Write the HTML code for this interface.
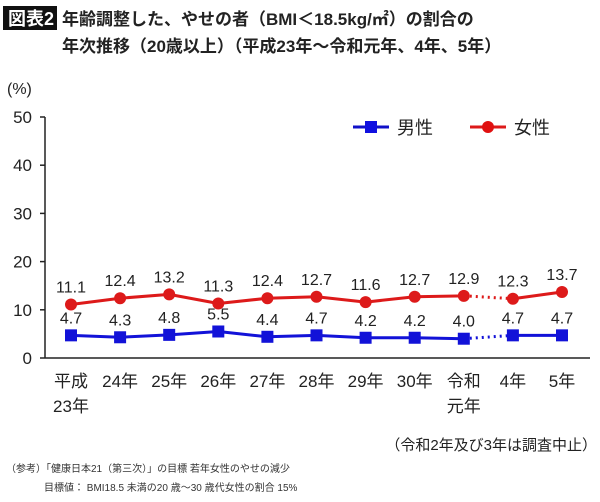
<!DOCTYPE html>
<html><head><meta charset="utf-8"><style>
body{margin:0;background:#fff;width:600px;height:497px;overflow:hidden;font-family:"Liberation Sans","Noto Sans CJK JP",sans-serif;}
svg text{font-family:"Liberation Sans","Noto Sans CJK JP",sans-serif;}
</style></head><body>
<svg width="600" height="497">
<rect x="3" y="6" width="54" height="24" fill="#111"/>
<text x="8" y="25" fill="#fff" font-size="18" font-weight="bold">図表2</text>
<text x="62" y="25" font-size="17" font-weight="bold" fill="#222">年齢調整した、やせの者（BMI＜18.5kg/㎡）の割合の</text>
<text x="62" y="52" font-size="17" font-weight="bold" fill="#222">年次推移（20歳以上）（平成23年～令和元年、4年、5年）</text>
<text x="7" y="94" font-size="16" fill="#222">(%)</text>
<g id="axes"></g>
<g id="series"></g>
<g>
<line x1="353" y1="127" x2="389" y2="127" stroke="#1010c8" stroke-width="3"/>
<rect x="365" y="121" width="12" height="12" fill="#1010e0"/>
<text x="397" y="134" font-size="18" fill="#222">男性</text>
<line x1="470" y1="127" x2="506" y2="127" stroke="#dd1a1a" stroke-width="3"/>
<circle cx="488" cy="127" r="6" fill="#e01010"/>
<text x="514" y="134" font-size="18" fill="#222">女性</text>
</g>
<text x="597" y="450" font-size="15" fill="#222" text-anchor="end">（令和2年及び3年は調査中止）</text>
<text x="6" y="472" font-size="10" fill="#333">（参考）「健康日本21（第三次）」の目標 若年女性のやせの減少</text>
<text x="44" y="491" font-size="10" fill="#333">目標値： BMI18.5 未満の20 歳～30 歳代女性の割合 15%</text>
</svg>
<script>
const categories=[["平成","23年"],["24年"],["25年"],["26年"],["27年"],["28年"],["29年"],["30年"],["令和","元年"],["4年"],["5年"]];
const maleValues=[4.7,4.3,4.8,5.5,4.4,4.7,4.2,4.2,4.0,4.7,4.7];
const femaleValues=[11.1,12.4,13.2,11.3,12.4,12.7,11.6,12.7,12.9,12.3,13.7];
const yTicks=[0,10,20,30,40,50];
const gapAfter=8;
const NS="http://www.w3.org/2000/svg";
const x0=71,dx=49.1,yBase=358,yTop=117;
const xs=i=>x0+i*dx;
const ys=v=>yBase-(v/50)*(yBase-yTop);
function mk(tag,attrs,parent,txt){const e=document.createElementNS(NS,tag);for(const k in attrs)e.setAttribute(k,attrs[k]);if(txt!==undefined)e.textContent=txt;parent.appendChild(e);return e;}
const ax=document.getElementById('axes'),sr=document.getElementById('series');
let e=mk('line',{x1:45,y1:yTop,x2:45,y2:yBase,stroke:'#222','stroke-width':1.5},ax);


e=mk('line',{x1:45,y1:yBase,x2:590,y2:yBase,stroke:'#222','stroke-width':1.5},ax);


yTicks.forEach(t=>{
 let l=mk('line',{x1:40,y1:ys(t),x2:45,y2:ys(t),stroke:'#222','stroke-width':1.5},ax);
 
 
 let tx=mk('text',{x:32,y:ys(t)+6,'font-size':17,fill:'#222','text-anchor':'end'},ax,String(t));
 
 
});
categories.forEach((c,i)=>{
 c.forEach((s,j)=>{
  let tx=mk('text',{x:xs(i),y:387+j*25,'font-size':17,fill:'#222','text-anchor':'middle'},ax,s);
  
  
 });
});
function series(vals,color,name,square){
 for(let i=0;i<vals.length-1;i++){
  let l=mk('line',{x1:xs(i),y1:ys(vals[i]),x2:xs(i+1),y2:ys(vals[i+1]),stroke:color,'stroke-width':3},sr);
  if(i===gapAfter)l.setAttribute('stroke-dasharray','2 4');
  
  
 }
 vals.forEach((v,i)=>{
  let m=square?mk('rect',{x:xs(i)-6,y:ys(v)-6,width:12,height:12,fill:color},sr):mk('circle',{cx:xs(i),cy:ys(v),r:6,fill:color},sr);
  
  
  let t=mk('text',{x:xs(i),y:ys(v)-12,'font-size':16,fill:'#222','text-anchor':'middle'},sr,v.toFixed(1));
  
  
 });
}
series(maleValues,'#1212d8','male',true);
series(femaleValues,'#dd1a1a','female',false);
</script>
</body></html>
